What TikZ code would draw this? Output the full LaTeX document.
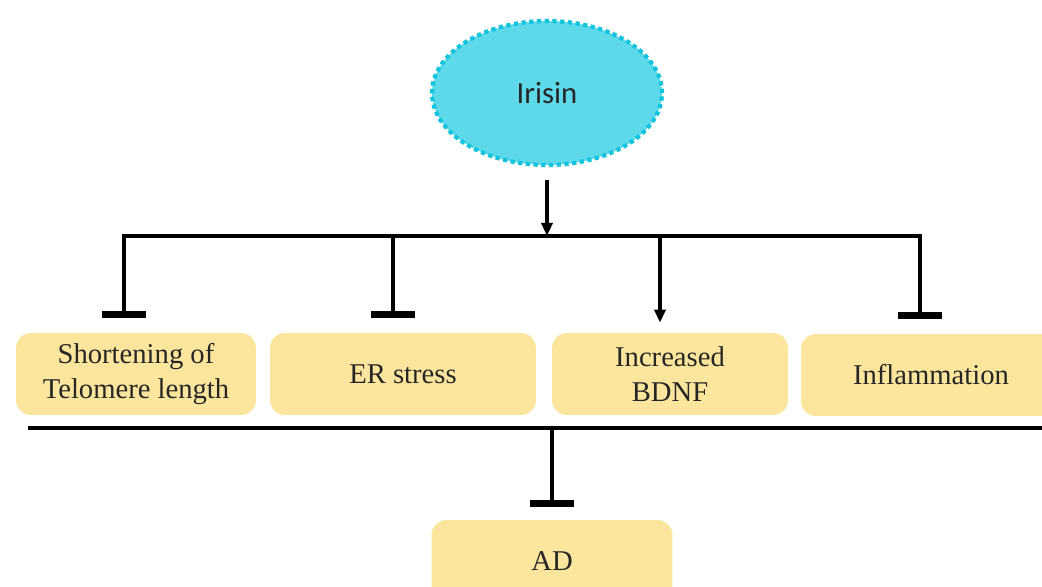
\documentclass[tikz,border=0pt]{standalone}
\usepackage{fontspec}
\setmainfont{Liberation Serif}
\newfontfamily\irisinfont{Carlito}
\usetikzlibrary{arrows.meta,shapes.geometric}
\definecolor{cyanfill}{HTML}{5DD9EA}
\definecolor{cyanline}{HTML}{12C3DE}
\definecolor{boxfill}{HTML}{FCE59C}
\begin{document}
\begin{tikzpicture}[
    x=0.02cm, y=-0.02cm,
    hormone/.style={ellipse, draw=cyanline, fill=cyanfill, line width=2.4pt, dotted, minimum width=4.6cm, minimum height=2.88cm, font=\irisinfont\fontsize{17.5}{20}\selectfont, text=black!85},
    effect/.style={rectangle, rounded corners=0.3cm, fill=boxfill, minimum height=1.64cm, align=center, font=\fontsize{16.3}{20}\selectfont, text=black!85},
    link/.style={line width=1.9pt},
    promote/.style={link, -{Triangle[length=0.26cm, width=0.22cm]}},
    inhibit/.style={link, -{Bar[width=0.88cm, line width=4pt]}, shorten >=0.3cm}
]
\useasboundingbox (0,0) rectangle (1042,587);

% Nodes
\node[hormone] (irisin) at (547, 93) {Irisin};
\node[effect, minimum width=4.8cm] (telo) at (136, 374)  {Shortening of\\Telomere length};
\node[effect, minimum width=5.32cm] (er) at (403, 374)   {ER stress};
\node[effect, minimum width=4.72cm] (bdnf) at (670, 374) {Increased\\BDNF};
\node[effect, minimum width=5.2cm] (infl) at (931, 375)  {Inflammation};
\node[effect, minimum width=4.82cm] (ad) at (552, 561)   {AD};

% Split points
\coordinate (split) at (547, 236);
\coordinate (lineL) at (28, 428);
\coordinate (lineR) at (1042, 428);
\coordinate (join) at (552, 428);

% Irisin effects
\draw[promote, shorten <=0.26cm] (irisin) -- (split);
\draw[inhibit] (split) -| ([xshift=-0.24cm]telo.north);
\draw[inhibit] (split) -| ([xshift=-0.2cm]er.north);
\draw[promote, shorten >=0.2cm] (split) -| ([xshift=-0.2cm]bdnf.north);
\draw[inhibit] (split) -| ([xshift=-0.22cm]infl.north);

% Effects on AD
\draw[link] (lineL) -- (lineR);
\draw[inhibit, shorten >=0.26cm] (join) -- (ad);
\end{tikzpicture}
\end{document}
